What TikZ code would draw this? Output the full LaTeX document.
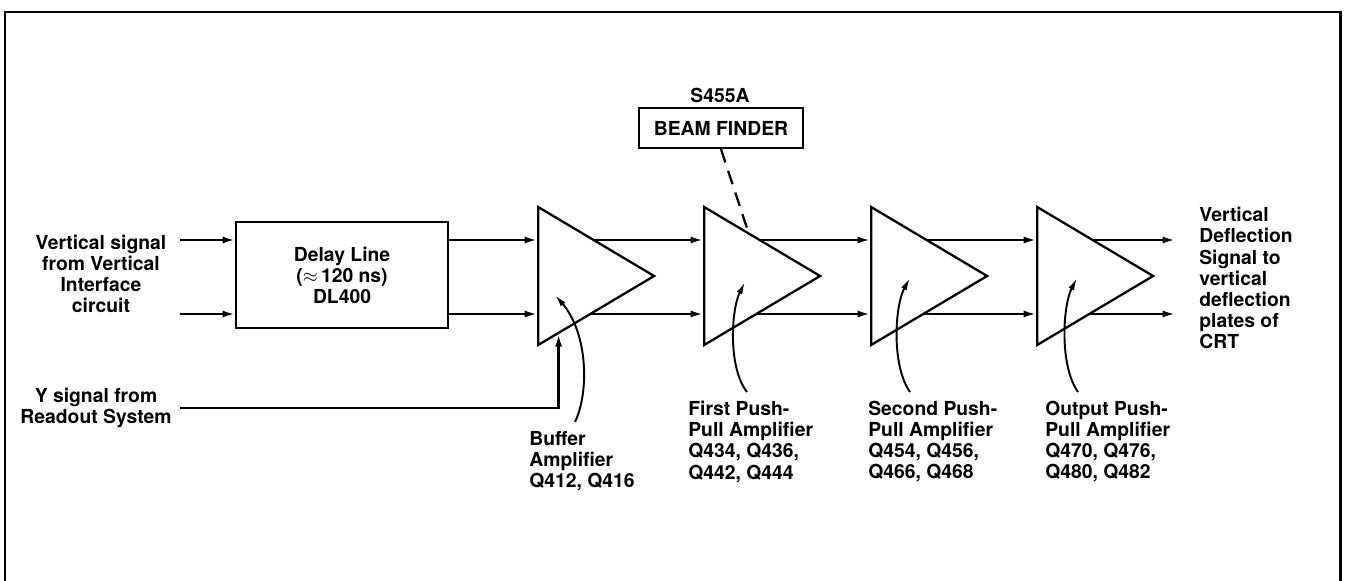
\documentclass[tikz,border=0pt]{standalone}
\usepackage{fontspec}
\setmainfont{TeX Gyre Heros}
\usetikzlibrary{arrows.meta, shapes.geometric, calc, backgrounds}

\begin{document}
\begin{tikzpicture}[x=0.02cm, y=-0.02cm, >=Latex,
    font=\bfseries\fontsize{11}{12}\selectfont,
    amp/.style={
        draw, line width=1.3pt, fill=white, isosceles triangle,
        isosceles triangle stretches, minimum width=2.76cm, minimum height=2.32cm,
        inner sep=0pt, anchor=west
    },
    block/.style={draw, line width=1.3pt, fill=white, align=center, inner sep=0pt},
    signal/.style={-{Latex[length=7pt,width=4pt]}, line width=1.3pt},
    wire/.style={-, line width=1.3pt},
    pointer/.style={-{Latex[length=7pt,width=3.5pt]}, line width=1.1pt},
    lab/.style={align=left, anchor=north west, inner sep=0pt},
]
\useasboundingbox (0,0) rectangle (1347,581);

% ================= frame =================
\draw[line width=1.7pt] (5,581) -- (5,12) -- (1340,12) -- (1340,581);

% ================= blocks =================
\coordinate (vin1) at (180,240);
\coordinate (vin2) at (180,314);
\coordinate (yin) at (180,408);
\coordinate (out1) at (1175,240);
\coordinate (out2) at (1175,314);

\node[block, minimum width=4.24cm, minimum height=2.12cm] (DL) at (342,275)
    {Delay Line\\($\approx$\,120 ns)\\DL400};

\node[amp] (T1) at (537,276) {};
\node[amp] (T2) at (703,276) {};
\node[amp] (T3) at (870,276) {};
\node[amp] (T4) at (1036,276) {};

\node[block, minimum width=3.28cm, minimum height=0.8cm] (BF) at (721,128) {BEAM FINDER};
\node (sw) at (720,95) {S455A};

% ================= texts =================
\node[align=center] (lin) at (101,274)
    {Vertical signal\\from Vertical\\Interface\\circuit};
\node[align=center] (lyin) at (96,408) {Y signal from\\Readout System};
\node[align=left, anchor=west, inner sep=0pt] (lout) at (1199,278)
    {Vertical\\Deflection\\Signal to\\vertical\\deflection\\plates of\\CRT};

\node[lab] (L1) at (529,431) {Buffer\\Amplifier\\Q412, Q416};
\node[lab] (L2) at (688,401) {First Push-\\Pull Amplifier\\Q434, Q436,\\Q442, Q444};
\node[lab] (L3) at (868,401) {Second Push-\\Pull Amplifier\\Q454, Q456,\\Q466, Q468};
\node[lab] (L4) at (1045,401) {Output Push-\\Pull Amplifier\\Q470, Q476,\\Q480, Q482};

% ================= signal paths =================
\draw[signal] (vin1) -- (DL.west |- vin1);
\draw[signal] (vin2) -- (DL.west |- vin2);
\draw[signal] (DL.east |- vin1) -- (T1.west |- vin1);
\draw[signal] (DL.east |- vin2) -- (T1.west |- vin2);
\begin{scope}[on background layer]
    \foreach \a/\b in {T1/T2,T2/T3,T3/T4}{
        \draw[signal] (\a.west |- vin1) -- (\b.west |- vin1);
        \draw[signal] (\a.west |- vin2) -- (\b.west |- vin2);
    }
    \draw[signal] (T4.west |- vin1) -- (out1);
    \draw[signal] (T4.west |- vin2) -- (out2);
\end{scope}

\coordinate (ytip) at ($(T1.right corner)!0.18!(T1.apex)$);
\draw[signal] (yin) -| (ytip);

\coordinate (bfend) at ($(T2.left corner)!0.376!(T2.apex)$);
\draw[wire, dash pattern=on 8pt off 5pt] (BF.south) -- (bfend);

% ================= pointers =================
\draw[pointer] (575,422) .. controls (590,390) and (587,332) .. (555,295);
\draw[pointer] (747,392) .. controls (728,368) and (731,310) .. (745,282);
\draw[pointer] (910,392) .. controls (891,365) and (895,305) .. (910,278);
\draw[pointer] (1078,392) .. controls (1059,365) and (1063,305) .. (1077,278);

\end{tikzpicture}
\end{document}
